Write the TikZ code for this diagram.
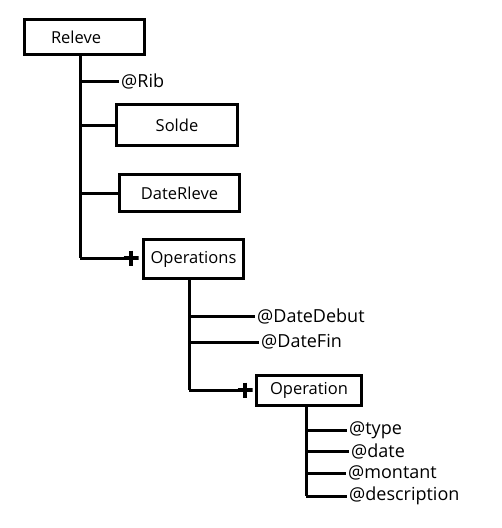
\documentclass[tikz,border=0pt]{standalone}
\usepackage{fontspec}
\setmainfont{Open Sans}
\usetikzlibrary{calc}

\tikzset{
  elem/.style={draw, line width=3pt, inner sep=0pt, font=\fontsize{16.5}{18}\selectfont},
  attr/.style={anchor=west, inner xsep=2pt, inner ysep=0pt, font=\fontsize{18}{20}\selectfont},
  link/.style={line width=3pt},
  plusmark/.style={minimum size=15pt, inner sep=0pt, path picture={
      \draw[line width=4pt] (path picture bounding box.west) -- (path picture bounding box.east)
                            (path picture bounding box.north) -- (path picture bounding box.south);}},
}

\begin{document}
\begin{tikzpicture}[x=1pt, y=-1pt]
    \useasboundingbox (0,0) rectangle (502,528);
    % racine
    \node[elem, text width=66pt, inner xsep=27pt, align=left, minimum height=35pt] (releve) at (84,37) {Releve};
    \coordinate (r0) at (80,56);
    \coordinate (r1) at (80,258);
    \draw[link] (r0) -- (r1);
    \node[attr] (rib) at (119,81) {@Rib};
    \node[elem, minimum width=121pt, minimum height=41pt] (solde) at (177,125) {Solde};
    \node[elem, minimum width=120pt, minimum height=37pt] (daterleve) at (179.5,193) {DateRleve};
    \foreach \n in {rib,solde,daterleve}
	\draw[link] (\n.west -| r0) -- (\n.west);
    \node[plusmark] (plus1) at (131,258) {};
    \node[elem, minimum width=100pt, minimum height=39pt] (operations) at (193.5,259) {Operations};
    \draw[link] (r1) -- (plus1.center);

    % Operations
    \coordinate (o0) at (189,280);
    \coordinate (o1) at (189,390);
    \draw[link] (o0) -- (o1);
    \foreach \x/\y/\n/\ntext in {255/316/datedebut/@DateDebut,259/342/datefin/@DateFin}
    {
	\node[attr] (\n) at (\x,\y) {\ntext};
	\draw[link] (\n.west -| o0) -- (\n.west);
    }
    \node[plusmark] (plus2) at (245,390) {};
    \node[elem, minimum width=105pt, minimum height=30pt] (operation) at (309,390.5) {Operation};
    \draw[link] (o1) -- (plus2.center);

    % Operation
    \coordinate (p0) at (306,407);
    \coordinate (p1) at (306,496);
    \draw[link] (p0) -- (p1);
    \foreach \x/\y/\n/\ntext in {347/430/type/@type,349/451/date/@date,346/473/montant/@montant,347/496/description/@description}
    {
	\node[attr] (\n) at (\x,\y) {\ntext};
	\draw[link] (\n.west -| p0) -- (\n.west);
    }
\end{tikzpicture}
\end{document}
